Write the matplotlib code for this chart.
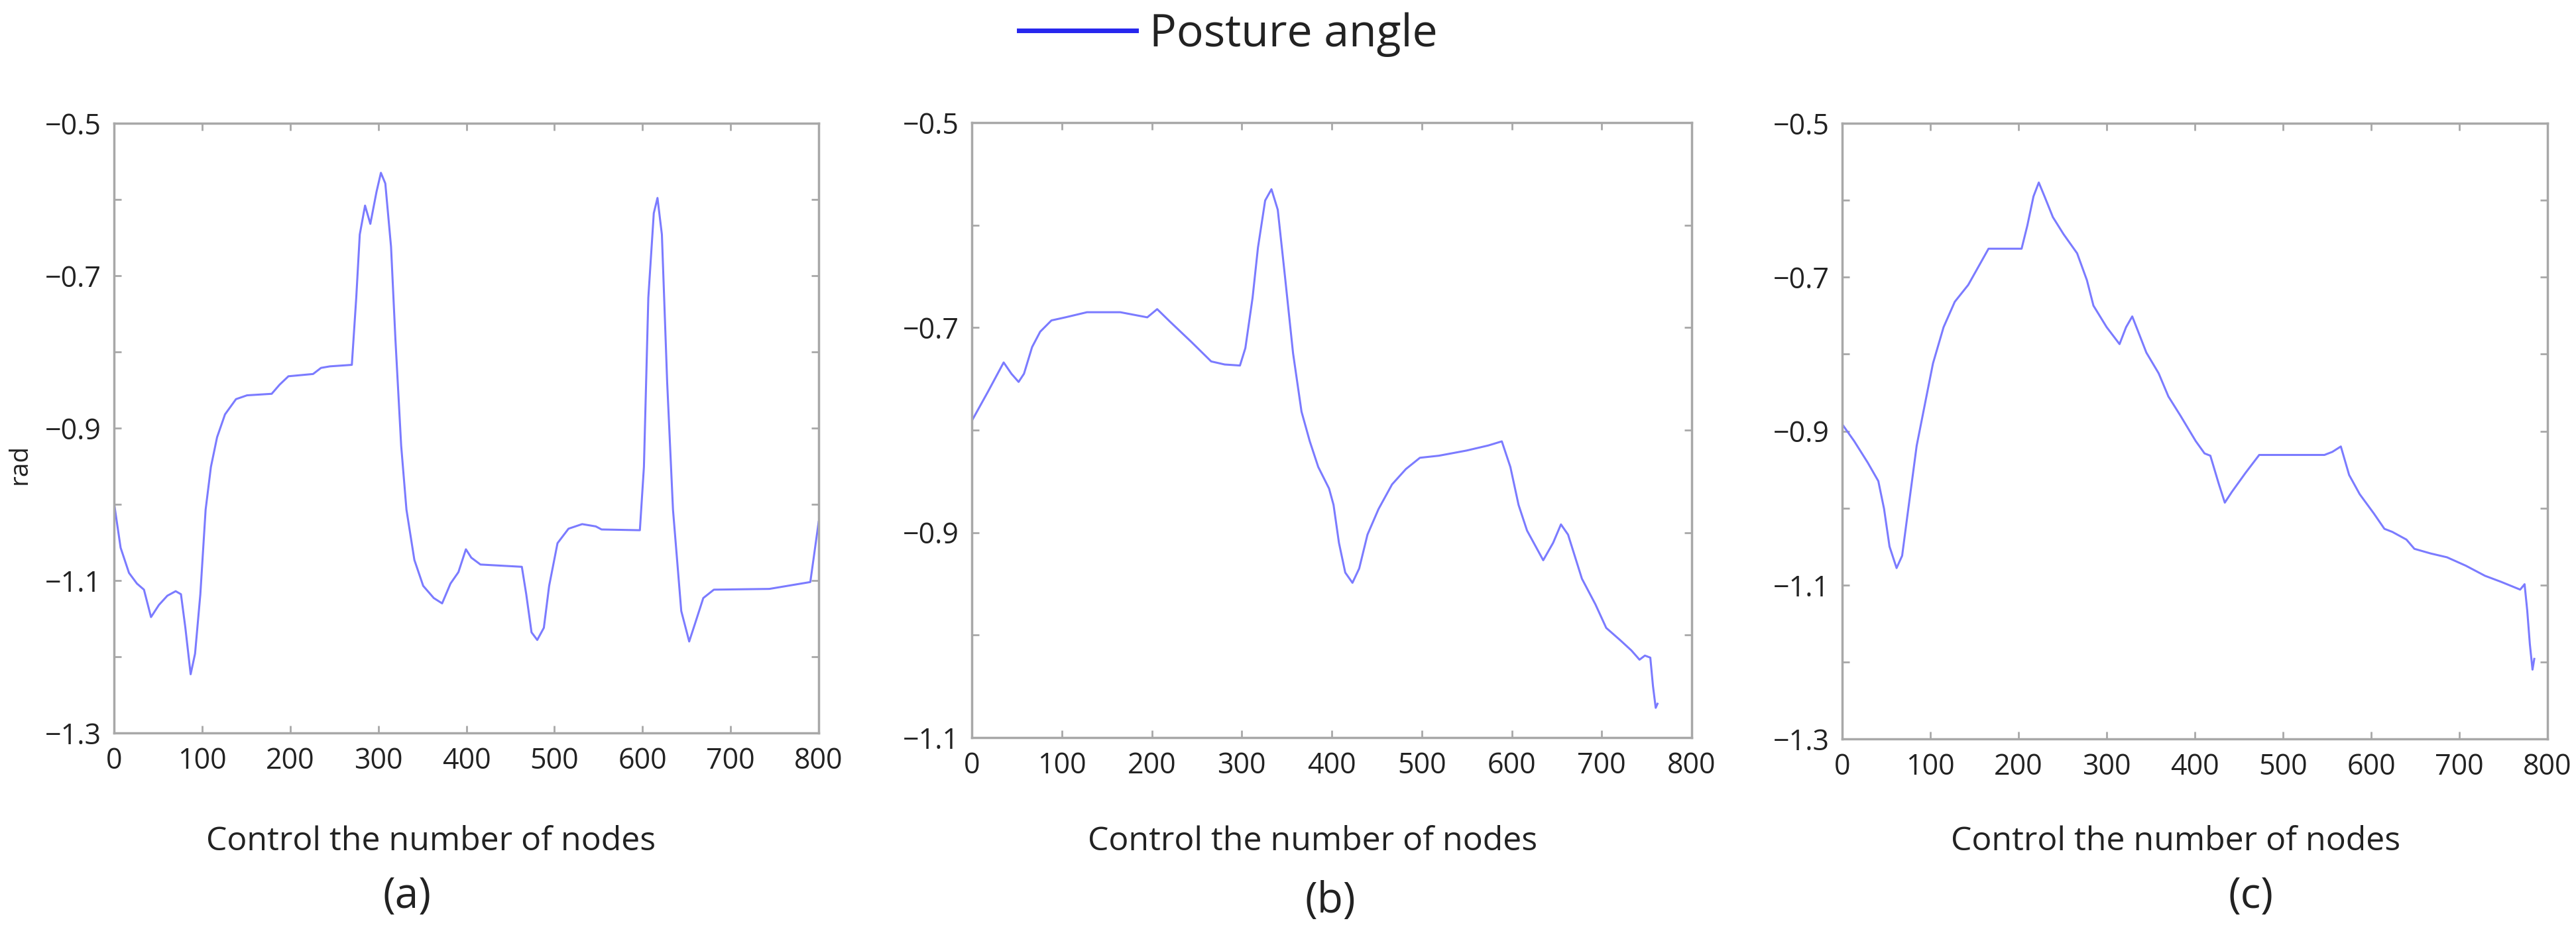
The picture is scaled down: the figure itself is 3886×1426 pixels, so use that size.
import numpy as np
import matplotlib.pyplot as plt
from matplotlib.lines import Line2D

# ===== data =====
x_a = [0, 7.5, 17, 26, 34, 42, 51, 60.5, 70, 76, 81, 87, 92, 98, 104, 110, 117, 126, 138.5, 151,
       179, 188, 198, 226, 235, 245, 270, 275, 279, 285, 291, 298, 303, 308, 314.5, 319.5, 326,
       332, 341, 351, 363, 372.5, 382, 391, 399.5, 405.6, 416, 463, 468, 474, 480.5, 488, 494,
       503.5, 516, 531.5, 547, 553.5, 597, 601.6, 606.6, 612.8, 617, 622, 628, 634.6, 644, 653,
       659.5, 669, 681, 744, 790.5, 794, 800]
y_a = [-0.998, -1.057, -1.09, -1.104, -1.112, -1.148, -1.132, -1.12, -1.114, -1.118, -1.162,
       -1.223, -1.196, -1.118, -1.007, -0.951, -0.912, -0.882, -0.862, -0.857, -0.855, -0.843,
       -0.832, -0.829, -0.821, -0.819, -0.817, -0.729, -0.646, -0.608, -0.632, -0.59, -0.565,
       -0.579, -0.662, -0.784, -0.923, -1.007, -1.073, -1.107, -1.123, -1.13, -1.104, -1.089,
       -1.059, -1.07, -1.079, -1.082, -1.118, -1.168, -1.178, -1.162, -1.107, -1.051, -1.032,
       -1.026, -1.029, -1.033, -1.034, -0.951, -0.729, -0.618, -0.598, -0.646, -0.84, -1.007,
       -1.14, -1.18, -1.157, -1.123, -1.112, -1.111, -1.102, -1.073, -1.023]

x_b = [0, 18.3, 35.4, 44, 52, 58, 67, 76, 88.5, 104, 128, 165, 183, 195, 206, 220, 244, 266,
       281, 298, 304, 312, 318, 326, 333, 340, 348, 357, 366.4, 375.6, 385, 397, 402, 408, 415,
       423, 430.5, 439.7, 452, 467, 482.4, 498, 519, 549.6, 574, 589, 598.5, 607.6, 617, 635,
       646, 654.7, 662.6, 678, 693, 705, 720.6, 733, 742, 748, 754, 757, 760, 762]
y_b = [-0.791, -0.762, -0.734, -0.745, -0.753, -0.745, -0.719, -0.704, -0.693, -0.69, -0.685,
       -0.685, -0.688, -0.69, -0.682, -0.694, -0.714, -0.733, -0.736, -0.737, -0.72, -0.671,
       -0.622, -0.576, -0.565, -0.585, -0.65, -0.725, -0.782, -0.811, -0.836, -0.857, -0.873,
       -0.91, -0.939, -0.949, -0.935, -0.902, -0.877, -0.853, -0.838, -0.827, -0.825, -0.82,
       -0.815, -0.811, -0.836, -0.873, -0.898, -0.927, -0.91, -0.892, -0.902, -0.945, -0.97,
       -0.993, -1.005, -1.015, -1.024, -1.02, -1.022, -1.05, -1.071, -1.067]

x_c = [0, 13.6, 29, 41, 47.5, 53.7, 61.7, 68, 75, 84.5, 94, 103, 115, 127.7, 143, 166, 203.5,
       210, 217, 223, 229.5, 239, 251, 266.5, 277.6, 285, 300, 314.6, 322, 329, 335.5, 345, 359,
       370, 383.7, 401, 411, 417.6, 427, 434, 442, 457.7, 473, 547, 556, 565.6, 575, 587, 603,
       615, 624, 640, 649, 667.4, 686, 707.5, 729, 747.6, 769, 774, 777, 780, 783, 785]
y_c = [-0.891, -0.913, -0.941, -0.965, -1.001, -1.05, -1.078, -1.062, -1.001, -0.919, -0.864,
       -0.812, -0.765, -0.732, -0.71, -0.663, -0.663, -0.633, -0.595, -0.577, -0.595, -0.622,
       -0.644, -0.669, -0.704, -0.737, -0.765, -0.787, -0.765, -0.751, -0.77, -0.798, -0.825,
       -0.855, -0.88, -0.913, -0.929, -0.932, -0.968, -0.993, -0.979, -0.954, -0.931, -0.931,
       -0.927, -0.92, -0.957, -0.982, -1.007, -1.027, -1.031, -1.041, -1.053, -1.059, -1.064,
       -1.075, -1.088, -1.096, -1.106, -1.099, -1.133, -1.177, -1.21, -1.196]

xticks = [0, 100, 200, 300, 400, 500, 600, 700, 800]
yticks_a = [-1.3, -1.2, -1.1, -1.0, -0.9, -0.8, -0.7, -0.6, -0.5]
ylabels_a = ['\u22121.3', '', '\u22121.1', '', '\u22120.9', '', '\u22120.7', '', '\u22120.5']
yticks_b = [-1.1, -1.0, -0.9, -0.8, -0.7, -0.6, -0.5]
ylabels_b = ['\u22121.1', '', '\u22120.9', '', '\u22120.7', '', '\u22120.5']
panel_tags = ['(a)', '(b)', '(c)']
xlabel_text = 'Control the number of nodes'
legend_text = 'Posture angle'

# ===== style =====
plt.rcParams['font.family'] = ['Open Sans', 'DejaVu Sans']
LINE_C = '#7b7bff'
SPINE_C = '#a8a8a8'
TXT_C = '#222222'

W, H = 3886, 1426
fig = plt.figure(figsize=(W / 100, H / 100), dpi=100)

# axes boxes in pixels (left, top, right, bottom)
boxes = [(172, 186, 1235, 1106), (1466, 185, 2552, 1113), (2779, 186, 3843, 1115)]
series = [(x_a, y_a, yticks_a, ylabels_a),
          (x_b, y_b, yticks_b, ylabels_b),
          (x_c, y_c, yticks_a, ylabels_a)]

axes = []
for (l, t, r, b), (xs, ys, yt, yl) in zip(boxes, series):
    ax = fig.add_axes([l / W, 1 - b / H, (r - l) / W, (b - t) / H])
    ax.plot(xs, ys, color=LINE_C, lw=2.2, solid_joinstyle='round')
    ax.set_xlim(0, 800)
    ax.set_ylim(yt[0], yt[-1])
    ax.set_xticks(xticks)
    ax.set_yticks(yt)
    ax.set_yticklabels(yl)
    for s in ax.spines.values():
        s.set_color(SPINE_C)
        s.set_linewidth(2.5)
    ax.tick_params(direction='in', length=8, width=2, color=SPINE_C,
                   top=True, right=True, labelsize=31, labelcolor=TXT_C)
    ax.tick_params(axis='y', pad=14)
    ax.tick_params(axis='x', pad=15)
    axes.append(ax)

# x labels and panel tags
xlab_cx = [650, 1980, 3282]
tag_cx = [614, 2007, 3395]
tag_cy = [1353, 1360, 1353]
for cx, tx, ty, tag in zip(xlab_cx, tag_cx, tag_cy, panel_tags):
    fig.text(cx / W, 1 - 1270 / H, xlabel_text, ha='center', va='center',
             fontsize=36, color=TXT_C)
    fig.text(tx / W, 1 - ty / H, tag, ha='center', va='center',
             fontsize=46, color=TXT_C)

fig.text(30 / W, 1 - 700 / H, 'rad', rotation=90, ha='center', va='center',
         fontsize=28, color=TXT_C)

# legend at the top
handle = Line2D([], [], color='#2626ee', lw=5)
fig.legend([handle], [legend_text], loc='center', bbox_to_anchor=(1853 / W, 1 - 52 / H),
           frameon=False, fontsize=49, handlelength=2.6, handletextpad=0.3,
           labelcolor=TXT_C)

fig.savefig('out.png', dpi=100)
